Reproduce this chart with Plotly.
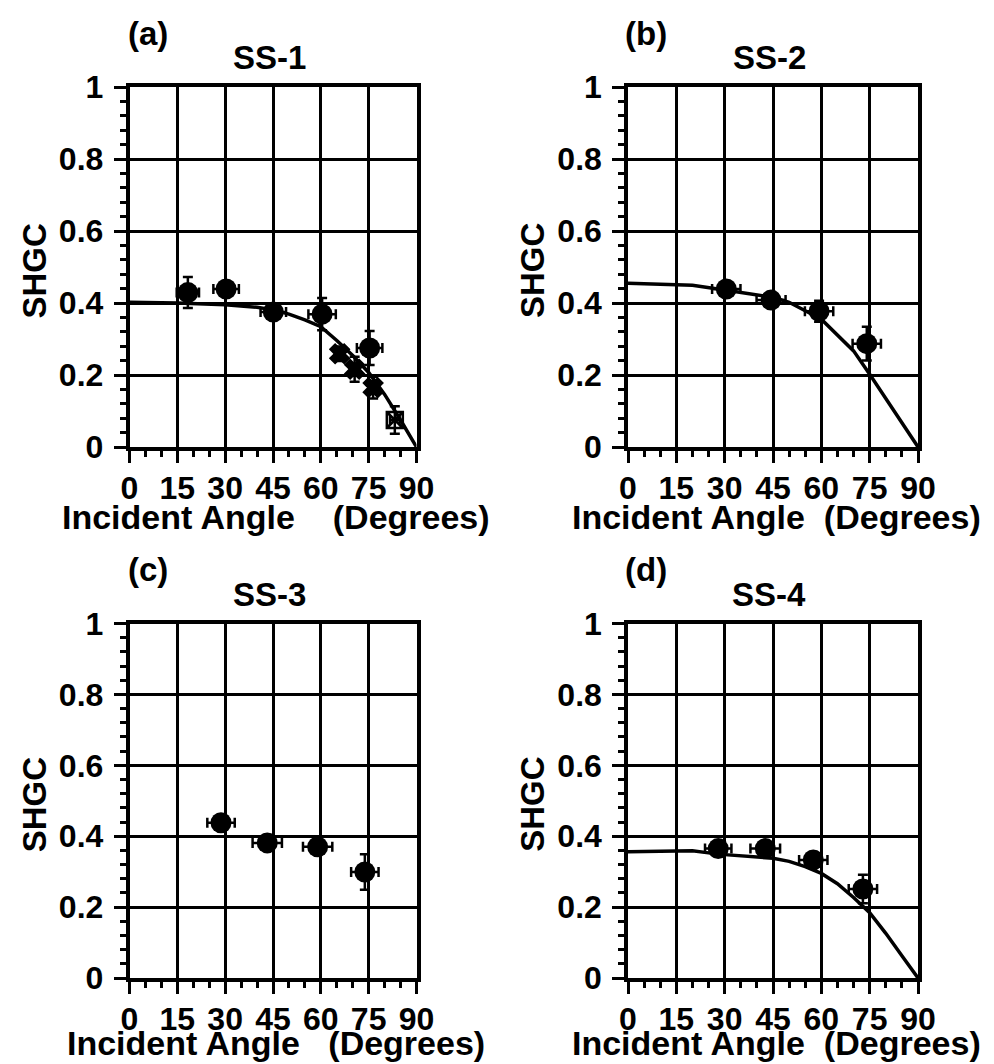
import plotly.graph_objects as go

W, H = 994, 1064

# ---------------- data ----------------
panel_labels = ["(a)", "(b)", "(c)", "(d)"]
panel_titles = ["SS-1", "SS-2", "SS-3", "SS-4"]
x_tick_vals = [0, 15, 30, 45, 60, 75, 90]
y_tick_vals = [0, 0.2, 0.4, 0.6, 0.8, 1]
y_tick_text = ["0", "0.2", "0.4", "0.6", "0.8", "1"]

# (a) SS-1
a_curve_x = [0, 15, 30, 40, 45, 50, 55, 60, 65, 70, 75, 80, 85, 90]
a_curve_y = [0.402, 0.400, 0.395, 0.388, 0.381, 0.369, 0.353, 0.334, 0.296, 0.254, 0.207, 0.146, 0.075, 0.0]
a_circ_x = [18.3, 30.3, 45.1, 60.4, 75.3]
a_circ_y = [0.429, 0.439, 0.375, 0.369, 0.275]
a_circ_xerr = [3.5, 4.0, 4.0, 4.3, 4.0]
a_circ_yerr = [0.043, 0.012, 0.012, 0.045, 0.047]
a_cross_x = [65.9, 70.6, 76.4, 83.2]
a_cross_y = [0.259, 0.216, 0.165, 0.075]
a_cross_xerr = [1.5, 1.5, 1.5, 1.5]
a_cross_yerr = [0.02, 0.035, 0.03, 0.038]

# (b) SS-2
b_curve_x = [0, 15, 20, 30, 45, 50, 60, 70, 75, 90]
b_curve_y = [0.455, 0.452, 0.449, 0.436, 0.416, 0.402, 0.355, 0.267, 0.202, 0.0]
b_circ_x = [30.5, 44.4, 59.3, 74.1]
b_circ_y = [0.439, 0.408, 0.377, 0.287]
b_circ_xerr = [4.4, 4.5, 4.4, 4.4]
b_circ_yerr = [0.012, 0.012, 0.029, 0.047]

# (c) SS-3
c_circ_x = [28.7, 43.2, 59.0, 73.8]
c_circ_y = [0.438, 0.381, 0.370, 0.299]
c_circ_xerr = [4.3, 4.6, 4.6, 4.3]
c_circ_yerr = [0.012, 0.012, 0.02, 0.05]

# (d) SS-4
d_curve_x = [0, 15, 20, 25, 30, 45, 50, 55, 60, 65, 70, 75, 80, 85, 90]
d_curve_y = [0.356, 0.360, 0.359, 0.353, 0.348, 0.338, 0.329, 0.314, 0.295, 0.266, 0.227, 0.184, 0.126, 0.063, 0.0]
d_circ_x = [28.0, 42.6, 57.5, 72.9]
d_circ_y = [0.365, 0.365, 0.333, 0.251]
d_circ_xerr = [4.1, 4.6, 4.4, 4.4]
d_circ_yerr = [0.012, 0.012, 0.012, 0.04]

# ---------------- layout geometry (pixels) ----------------
FONT = "Liberation Sans, Arial, Helvetica, sans-serif"
cols = [(121.5, 408.5), (620.0, 910.0)]
rows = [(79.0, 439.0), (615.5, 970.0)]
xtitle_offset = [70, 65]


def px_x(p):
    return p / W


def px_y(p):
    return 1 - p / H


fig = go.Figure()

panels = [
    dict(curve=(a_curve_x, a_curve_y), circ=(a_circ_x, a_circ_y, a_circ_xerr, a_circ_yerr),
         cross=(a_cross_x, a_cross_y, a_cross_xerr, a_cross_yerr), col=0, row=0),
    dict(curve=(b_curve_x, b_curve_y), circ=(b_circ_x, b_circ_y, b_circ_xerr, b_circ_yerr),
         cross=None, col=1, row=0),
    dict(curve=None, circ=(c_circ_x, c_circ_y, c_circ_xerr, c_circ_yerr),
         cross=None, col=0, row=1),
    dict(curve=(d_curve_x, d_curve_y), circ=(d_circ_x, d_circ_y, d_circ_xerr, d_circ_yerr),
         cross=None, col=1, row=1),
]

xtitles = ["Incident Angle\u00a0\u00a0\u00a0\u00a0(Degrees)",
           "Incident Angle\u00a0\u00a0(Degrees)",
           "Incident Angle\u00a0\u00a0\u00a0(Degrees)",
           "Incident Angle\u00a0\u00a0(Degrees)"]

for i, p in enumerate(panels):
    n = "" if i == 0 else str(i + 1)
    xa, ya = "x" + n, "y" + n
    if p["curve"] is not None:
        fig.add_trace(go.Scatter(x=p["curve"][0], y=p["curve"][1], mode="lines",
                                 line=dict(color="black", width=3.5), xaxis=xa, yaxis=ya,
                                 showlegend=False))
    if p["cross"] is not None:
        cx, cy, cxe, cye = p["cross"]
        fig.add_trace(go.Scatter(x=cx, y=cy, mode="markers",
                                 marker=dict(symbol=["x", "x", "x", "square-x-open"], size=16,
                                             color="black", line=dict(color="black", width=2.5)),
                                 error_x=dict(type="data", array=cxe, color="black", thickness=2.5, width=5),
                                 error_y=dict(type="data", array=cye, color="black", thickness=2.5, width=5),
                                 xaxis=xa, yaxis=ya, showlegend=False))
    ox, oy, oxe, oye = p["circ"]
    fig.add_trace(go.Scatter(x=ox, y=oy, mode="markers",
                             marker=dict(symbol="circle", size=21, color="black"),
                             error_x=dict(type="data", array=oxe, color="black", thickness=2.5, width=5),
                             error_y=dict(type="data", array=oye, color="black", thickness=2.5, width=5),
                             xaxis=xa, yaxis=ya, showlegend=False))

    x0, x1 = cols[p["col"]]
    y0, y1 = rows[p["row"]]
    axis_common = dict(showline=True, linecolor="black", linewidth=3.5, mirror=True,
                       showgrid=True, gridcolor="black", gridwidth=2.5,
                       ticks="outside", ticklen=12, tickwidth=3, tickcolor="black",
                       zeroline=False, fixedrange=True, automargin=False,
                       tickfont=dict(family=FONT, size=32, color="black", weight="bold"))
    fig.layout["xaxis" + n] = dict(axis_common, domain=[px_x(x0), px_x(x1)], anchor=ya,
                                   range=[0, 90], tickmode="array", tickvals=x_tick_vals,
                                   ticklabelstandoff=-2,
                                   minor=dict(dtick=5, ticks="outside", ticklen=6, tickwidth=2.5,
                                              tickcolor="black", showgrid=False))
    fig.layout["yaxis" + n] = dict(axis_common, domain=[px_y(y1), px_y(y0)], anchor=xa,
                                   range=[0, 1], tickmode="array", tickvals=y_tick_vals,
                                   ticktext=y_tick_text, ticklabelstandoff=4,
                                   minor=dict(dtick=0.04, tick0=0, ticks="outside", ticklen=6,
                                              tickwidth=2.5, tickcolor="black", showgrid=False))

    cx_mid = (x0 + x1) / 2
    ann = []
    ann.append(dict(text=panel_labels[i], x=px_x(x0 + 18), y=px_y(y0 - 54),
                    font=dict(family=FONT, size=33, color="black", weight="bold")))
    ann.append(dict(text=panel_titles[i], x=px_x(cx_mid - 4), y=px_y(y0 - 29),
                    font=dict(family=FONT, size=33, color="black", weight="bold")))
    ann.append(dict(text="SHGC", x=px_x(x0 - 95), y=px_y((y0 + y1) / 2 + 4), textangle=-90,
                    font=dict(family=FONT, size=33, color="black", weight="bold")))
    ann.append(dict(text=xtitles[i], x=px_x(cx_mid + 3), y=px_y(y1 + xtitle_offset[p["row"]]),
                    font=dict(family=FONT, size=34, color="black", weight="bold")))
    for a in ann:
        fig.add_annotation(xref="paper", yref="paper", showarrow=False,
                           xanchor="center", yanchor="middle", **a)

fig.update_layout(template="none", width=W, height=H, margin=dict(l=0, r=0, t=0, b=0, pad=0),
                  plot_bgcolor="white", paper_bgcolor="white", showlegend=False)

fig.write_html("out.html")
